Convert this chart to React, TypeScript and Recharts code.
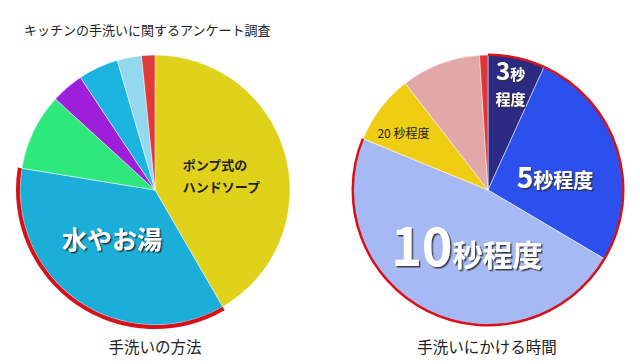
import { PieChart, Pie, Cell } from "recharts";

// 手洗いの方法
const methodNames = ["ポンプ式のハンドソープ", "水やお湯", "その他1", "その他2", "その他3", "その他4", "その他5"];
const methodValues = [41.6, 35.9, 9.2, 3.9, 4.8, 2.9, 1.6];
const methodColors = ["#e0d11a", "#1aaed8", "#2ee87c", "#9d1fd9", "#1ab4df", "#93d8ee", "#e03a3a"];
const methodHighlight = [1];

// 手洗いにかける時間
const timeNames = ["3秒程度", "5秒程度", "10秒程度", "20秒程度", "その他1", "その他2"];
const timeValues = [6.8, 26.7, 47.7, 8.3, 9.5, 1.0];
const timeColors = ["#2d2a84", "#2b50ee", "#a7b9f4", "#efcd12", "#e2a7a7", "#e03535"];
const timeHighlight = [0, 1, 2];

const methodData = methodNames.map((name, i) => ({ name, value: methodValues[i] }));
const timeData = timeNames.map((name, i) => ({ name, value: timeValues[i] }));

const FONT = '"Noto Sans CJK JP", "Noto Sans", sans-serif';
const RAD = Math.PI / 180;

// 中心からの位置 (dist: 半径比, shift: 角度補正)
function place(p: any, dist: number, shift: number) {
  const a = (90 - p.midAngle + shift) * RAD;
  return {
    x: p.cx + p.outerRadius * dist * Math.sin(a),
    y: p.cy - p.outerRadius * dist * Math.cos(a),
  };
}

// 白文字 + 影 (フィルターで影をつける)
function Shadowed({ x, y, size, children }: any) {
  return (
    <text
      x={x}
      y={y}
      fill="#fff"
      fontFamily={FONT}
      fontWeight={700}
      textAnchor="middle"
      fontSize={size}
      filter="url(#txtShadow)"
    >
      {children}
    </text>
  );
}

function methodLabel(p: any) {
  if (p.index === 0) {
    const { x, y } = place(p, 0.49, 3);
    return (
      <text x={x - 37} y={y - 6} fontFamily={FONT} fontWeight={700} fontSize={13} fill="#222">
        ポンプ式の
        <tspan x={x - 37} dy={22}>ハンドソープ</tspan>
      </text>
    );
  }
  if (p.index === 1) {
    const { x, y } = place(p, 0.49, 6);
    return <Shadowed x={x} y={y + 9} size={25}>水やお湯</Shadowed>;
  }
  return null;
}

function timeLabel(p: any) {
  if (p.index === 0) {
    const { x, y } = place(p, 0.79, 0);
    return (
      <g>
        <Shadowed x={x} y={y - 6} size={15}>
          <tspan fontSize={24}>3</tspan>秒
        </Shadowed>
        <Shadowed x={x} y={y + 19} size={15}>程度</Shadowed>
      </g>
    );
  }
  if (p.index === 1) {
    const { x, y } = place(p, 0.5, 10.6);
    return (
      <Shadowed x={x} y={y + 6} size={20}>
        <tspan fontSize={28}>5</tspan>秒程度
      </Shadowed>
    );
  }
  if (p.index === 2) {
    const { x, y } = place(p, 0.44, -5.6);
    return (
      <Shadowed x={x} y={y + 20} size={30}>
        <tspan fontSize={52}>10</tspan>秒程度
      </Shadowed>
    );
  }
  if (p.index === 3) {
    const { x, y } = place(p, 0.75, -3.9);
    return (
      <text x={x} y={y + 4} textAnchor="middle" fontFamily={FONT} fontSize={12} fill="#222">
        20 秒程度
      </text>
    );
  }
  return null;
}

const titleStyle = {
  position: "absolute" as const,
  fontFamily: FONT,
  color: "#222",
  whiteSpace: "nowrap" as const,
};

export default function App() {
  return (
    <div style={{ position: "absolute", left: 0, top: 0, width: 640, height: 364, background: "#fff" }}>
      <svg width={0} height={0} style={{ position: "absolute" }}>
        <defs>
          <filter id="txtShadow" x="-20%" y="-20%" width="140%" height="140%">
            <feDropShadow dx={1.5} dy={1.5} stdDeviation={0.6} floodColor="#333" floodOpacity={0.9} />
          </filter>
        </defs>
      </svg>
      <PieChart width={640} height={364} margin={{ top: 0, right: 0, bottom: 0, left: 0 }}>
        <Pie
          data={methodData}
          dataKey="value"
          cx={155}
          cy={190}
          outerRadius={135}
          startAngle={90}
          endAngle={-270}
          stroke="#fff"
          strokeWidth={0.5}
          labelLine={false}
          label={methodLabel}
          isAnimationActive={false}
        >
          {methodData.map((d, i) => (
            <Cell key={d.name} fill={methodColors[i]} />
          ))}
        </Pie>
        <Pie
          data={methodData}
          dataKey="value"
          cx={155}
          cy={190}
          innerRadius={135}
          outerRadius={139}
          startAngle={90}
          endAngle={-270}
          stroke="none"
          isAnimationActive={false}
        >
          {methodData.map((d, i) => (
            <Cell key={d.name} fill={methodHighlight.includes(i) ? "#d8101a" : "none"} />
          ))}
        </Pie>
        <Pie
          data={timeData}
          dataKey="value"
          cx={488}
          cy={190}
          outerRadius={135}
          startAngle={90}
          endAngle={-270}
          stroke="#fff"
          strokeWidth={0.5}
          labelLine={false}
          label={timeLabel}
          isAnimationActive={false}
        >
          {timeData.map((d, i) => (
            <Cell key={d.name} fill={timeColors[i]} />
          ))}
        </Pie>
        <Pie
          data={timeData}
          dataKey="value"
          cx={488}
          cy={190}
          innerRadius={134}
          outerRadius={136.5}
          startAngle={90}
          endAngle={-270}
          stroke="none"
          isAnimationActive={false}
        >
          {timeData.map((d, i) => (
            <Cell key={d.name} fill={timeHighlight.includes(i) ? "#d8101a" : "none"} />
          ))}
        </Pie>
      </PieChart>
      <div style={{ ...titleStyle, left: 24, top: 20, fontSize: 13 }}>
        キッチンの手洗いに関するアンケート調査
      </div>
      <div style={{ ...titleStyle, left: 55, width: 200, textAlign: "center", top: 335, fontSize: 15.5 }}>
        手洗いの方法
      </div>
      <div style={{ ...titleStyle, left: 387, width: 200, textAlign: "center", top: 335, fontSize: 15.5 }}>
        手洗いにかける時間
      </div>
    </div>
  );
}
